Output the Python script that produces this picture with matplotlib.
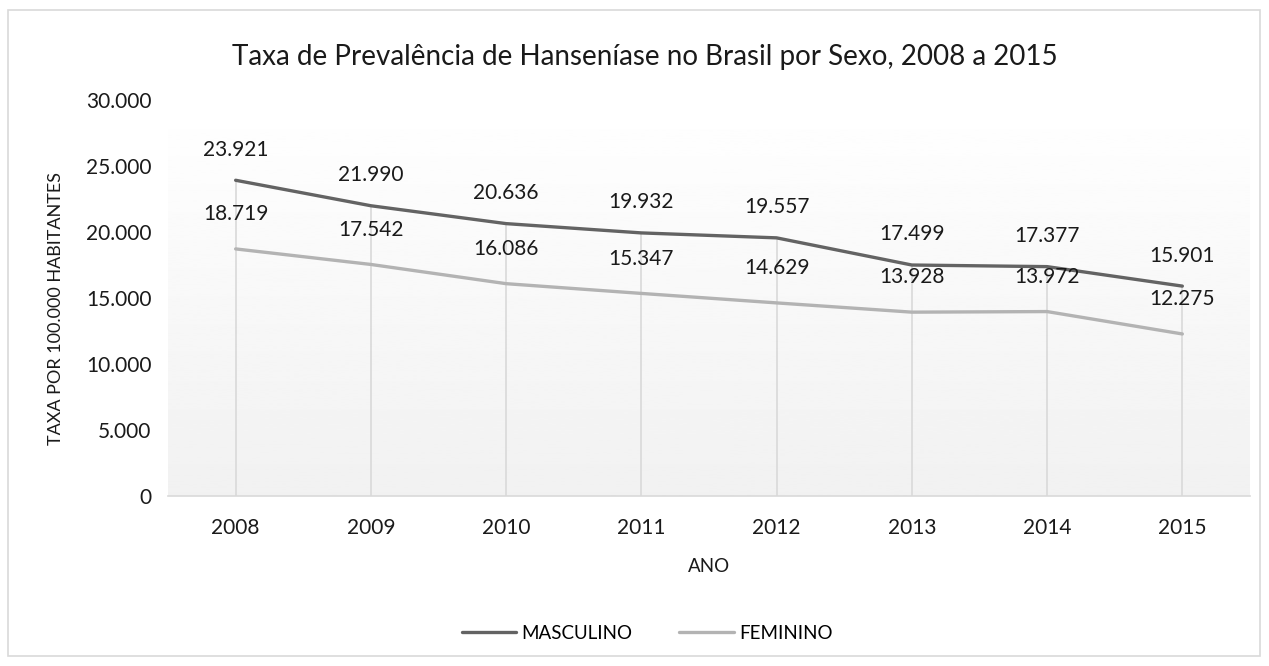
import matplotlib
matplotlib.use("Agg")
import matplotlib.pyplot as plt
import numpy as np
from matplotlib.patches import Rectangle

# data
anos = ["2008", "2009", "2010", "2011", "2012", "2013", "2014", "2015"]
masculino = [23921, 21990, 20636, 19932, 19557, 17499, 17377, 15901]
feminino = [18719, 17542, 16086, 15347, 14629, 13928, 13972, 12275]
y_ticks = [0, 5000, 10000, 15000, 20000, 25000, 30000]


def fmt(v):
    return "{:,.0f}".format(v).replace(",", ".")


plt.rcParams["font.family"] = ["Lato", "DejaVu Sans"]

fig = plt.figure(figsize=(12.69, 6.66), dpi=100)
ax = fig.add_axes([0.1324, 0.2553, 0.8526, 0.5945])

x = np.arange(len(anos))
ax.set_xlim(-0.5, len(anos) - 0.5)
ax.set_ylim(0, 30000)

# gradient background
grad = np.linspace(1.0, 0.945, 256).reshape(-1, 1)
ax.imshow(grad, cmap="gray", vmin=0, vmax=1, aspect="auto",
          extent=[-0.5, len(anos) - 0.5, 0, 30000], zorder=0)

# drop lines
ax.vlines(x, 0, masculino, color="#d9d9d9", lw=1.2, zorder=1)

ax.plot(x, masculino, color="#636363", lw=2.4, label="MASCULINO", zorder=3,
        solid_capstyle="round")
ax.plot(x, feminino, color="#b3b3b3", lw=2.4, label="FEMININO", zorder=3,
        solid_capstyle="round")

for xi, v in zip(x, masculino):
    ax.annotate(fmt(v), (xi, v), xytext=(0, 22), textcoords="offset points",
                ha="center", va="center", fontsize=15, color="#1a1a1a")
for xi, v in zip(x, feminino):
    ax.annotate(fmt(v), (xi, v), xytext=(0, 25), textcoords="offset points",
                ha="center", va="center", fontsize=15, color="#1a1a1a")

ax.set_xticks(x, anos)
ax.set_yticks(y_ticks, [fmt(v) for v in y_ticks])
ax.tick_params(length=0, labelsize=15, colors="#1a1a1a", pad=12)
ax.tick_params(axis="x", pad=16)
for s in ["top", "right", "left"]:
    ax.spines[s].set_visible(False)
ax.spines["bottom"].set_color("#d9d9d9")
ax.spines["bottom"].set_linewidth(1.2)

ax.set_xlabel("ANO", fontsize=13.5, color="#1a1a1a", labelpad=14)
fig.text(0.044, 0.5375, "TAXA POR 100.000 HABITANTES", rotation=90,
         ha="center", va="center", fontsize=13, color="#1a1a1a")

fig.text(0.508, 0.915, "Taxa de Prevalência de Hanseníase no Brasil por Sexo, 2008 a 2015",
         ha="center", va="center", fontsize=20, color="#1a1a1a")

fig.legend(loc="center", bbox_to_anchor=(0.51, 0.049), ncol=2, frameon=False,
           fontsize=13.5, handlelength=2.9, handletextpad=0.3, columnspacing=2.5)

fig.patches.append(Rectangle((0.0063, 0.015), 0.987, 0.97, transform=fig.transFigure,
                             fill=False, edgecolor="#d9d9d9", lw=1.2))

fig.savefig("out.png", dpi=100)
